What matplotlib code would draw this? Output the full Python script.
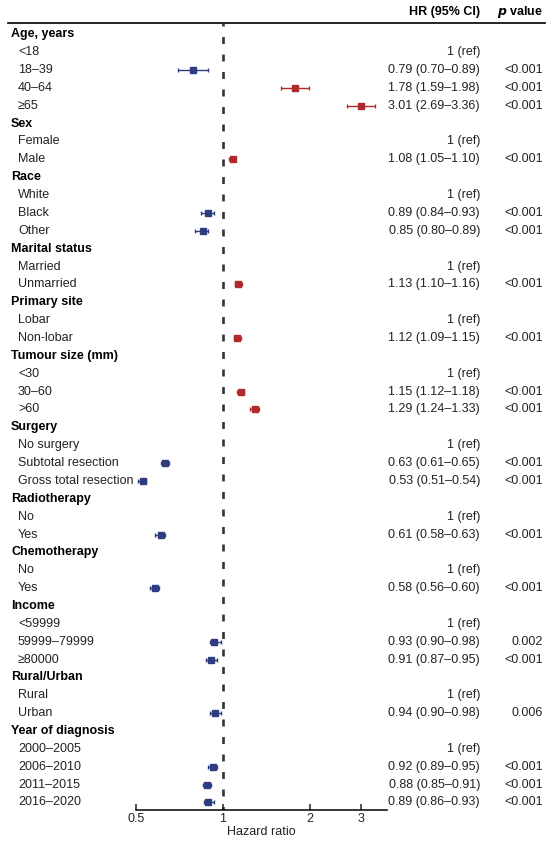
import numpy as np
import matplotlib
matplotlib.use("Agg")
import matplotlib.pyplot as plt
from matplotlib.transforms import blended_transform_factory
from matplotlib.lines import Line2D

plt.rcParams["font.family"] = ["Liberation Sans", "DejaVu Sans"]
plt.rcParams["lines.scale_dashes"] = False

# rows of the forest plot, top to bottom
labels = ["Age, years", "<18", "18–39", "40–64", "≥65",
          "Sex", "Female", "Male",
          "Race", "White", "Black", "Other",
          "Marital status", "Married", "Unmarried",
          "Primary site", "Lobar", "Non-lobar",
          "Tumour size (mm)", "<30", "30–60", ">60",
          "Surgery", "No surgery", "Subtotal resection", "Gross total resection",
          "Radiotherapy", "No", "Yes",
          "Chemotherapy", "No", "Yes",
          "Income", "<59999", "59999–79999", "≥80000",
          "Rural/Urban", "Rural", "Urban",
          "Year of diagnosis", "2000–2005", "2006–2010", "2011–2015", "2016–2020"]
headers = ["Age, years", "Sex", "Race", "Marital status", "Primary site",
           "Tumour size (mm)", "Surgery", "Radiotherapy", "Chemotherapy",
           "Income", "Rural/Urban", "Year of diagnosis"]

# hazard ratios: None = header row, "ref" = reference category
hr = [None, "ref", 0.79, 1.78, 3.01,
      None, "ref", 1.08,
      None, "ref", 0.89, 0.85,
      None, "ref", 1.13,
      None, "ref", 1.12,
      None, "ref", 1.15, 1.29,
      None, "ref", 0.63, 0.53,
      None, "ref", 0.61,
      None, "ref", 0.58,
      None, "ref", 0.93, 0.91,
      None, "ref", 0.94,
      None, "ref", 0.92, 0.88, 0.89]
ci_low = [None, None, 0.70, 1.59, 2.69,
          None, None, 1.05,
          None, None, 0.84, 0.80,
          None, None, 1.10,
          None, None, 1.09,
          None, None, 1.12, 1.24,
          None, None, 0.61, 0.51,
          None, None, 0.58,
          None, None, 0.56,
          None, None, 0.90, 0.87,
          None, None, 0.90,
          None, None, 0.89, 0.85, 0.86]
ci_high = [None, None, 0.89, 1.98, 3.36,
           None, None, 1.10,
           None, None, 0.93, 0.89,
           None, None, 1.16,
           None, None, 1.15,
           None, None, 1.18, 1.33,
           None, None, 0.65, 0.54,
           None, None, 0.63,
           None, None, 0.60,
           None, None, 0.98, 0.95,
           None, None, 0.98,
           None, None, 0.95, 0.91, 0.93]
pvals = ["", "", "<0.001", "<0.001", "<0.001",
         "", "", "<0.001",
         "", "", "<0.001", "<0.001",
         "", "", "<0.001",
         "", "", "<0.001",
         "", "", "<0.001", "<0.001",
         "", "", "<0.001", "<0.001",
         "", "", "<0.001",
         "", "", "<0.001",
         "", "", "0.002", "<0.001",
         "", "", "0.006",
         "", "", "<0.001", "<0.001", "<0.001"]
xticks = [0.5, 1, 2, 3]

blue = "#2e3d80"
red = "#b02a2c"
txt = "#222222"

W, H = 550, 843
fig = plt.figure(figsize=(W / 100, H / 100), dpi=100)
ax = fig.add_axes([136 / W, 1 - 810 / H, (387 - 136) / W, (810 - 23) / H])

n = len(labels)
ax.set_xscale("log")
ax.set_xlim(0.5, 3.69)
ax.set_ylim(n - 1 + 0.42, -0.63)

for i in range(n):
    if hr[i] is None or hr[i] == "ref":
        continue
    c = blue if hr[i] < 1 else red
    ax.errorbar(hr[i], i, xerr=[[hr[i] - ci_low[i]], [ci_high[i] - hr[i]]],
                fmt="s", color=c, ms=4.4, elinewidth=1.0, capsize=1.6,
                capthick=1.0, mec=c)

ax.axvline(1, color="#333333", lw=1.9, ls=(2.5, (5.0, 7.6)), zorder=0)

for s in ["top", "left", "right"]:
    ax.spines[s].set_visible(False)
ax.spines["bottom"].set_linewidth(1.1)
ax.set_yticks([])
ax.set_xticks(xticks)
ax.set_xticklabels([f"{t:g}" for t in xticks])
ax.minorticks_off()
ax.tick_params(axis="x", direction="in", length=4, width=1.1, pad=2,
               labelsize=9, colors=txt)
ax.set_xlabel("Hazard ratio", fontsize=9, labelpad=1, color=txt)

# text columns
tr = blended_transform_factory(fig.transFigure, ax.transData)
for i, lab in enumerate(labels):
    if lab in headers:
        ax.text(11 / W, i, lab, transform=tr, ha="left", va="center",
                fontsize=9, fontweight="bold", color="black")
    else:
        ax.text(18 / W, i, lab, transform=tr, ha="left", va="center",
                fontsize=9, color=txt)
    if hr[i] == "ref":
        ax.text(480 / W, i, "1 (ref)", transform=tr, ha="right", va="center",
                fontsize=9, color=txt)
    elif hr[i] is not None:
        s = f"{hr[i]:.2f} ({ci_low[i]:.2f}–{ci_high[i]:.2f})"
        ax.text(480 / W, i, s, transform=tr, ha="right", va="center",
                fontsize=9, color=txt)
    if pvals[i]:
        ax.text(543 / W, i, pvals[i], transform=tr, ha="right", va="center",
                fontsize=9, color=txt)

fig.text(480 / W, 1 - 12 / H, "HR (95% CI)", ha="right", va="center",
         fontsize=9, fontweight="bold")
fig.text(543 / W, 1 - 12 / H, r"$\bfit{p}$ value", ha="right", va="center",
         fontsize=9, fontweight="bold")
fig.add_artist(Line2D([8 / W, 545 / W], [1 - 23 / H, 1 - 23 / H],
                      transform=fig.transFigure, color="black", lw=1.2))

fig.savefig("out.png", dpi=100)
